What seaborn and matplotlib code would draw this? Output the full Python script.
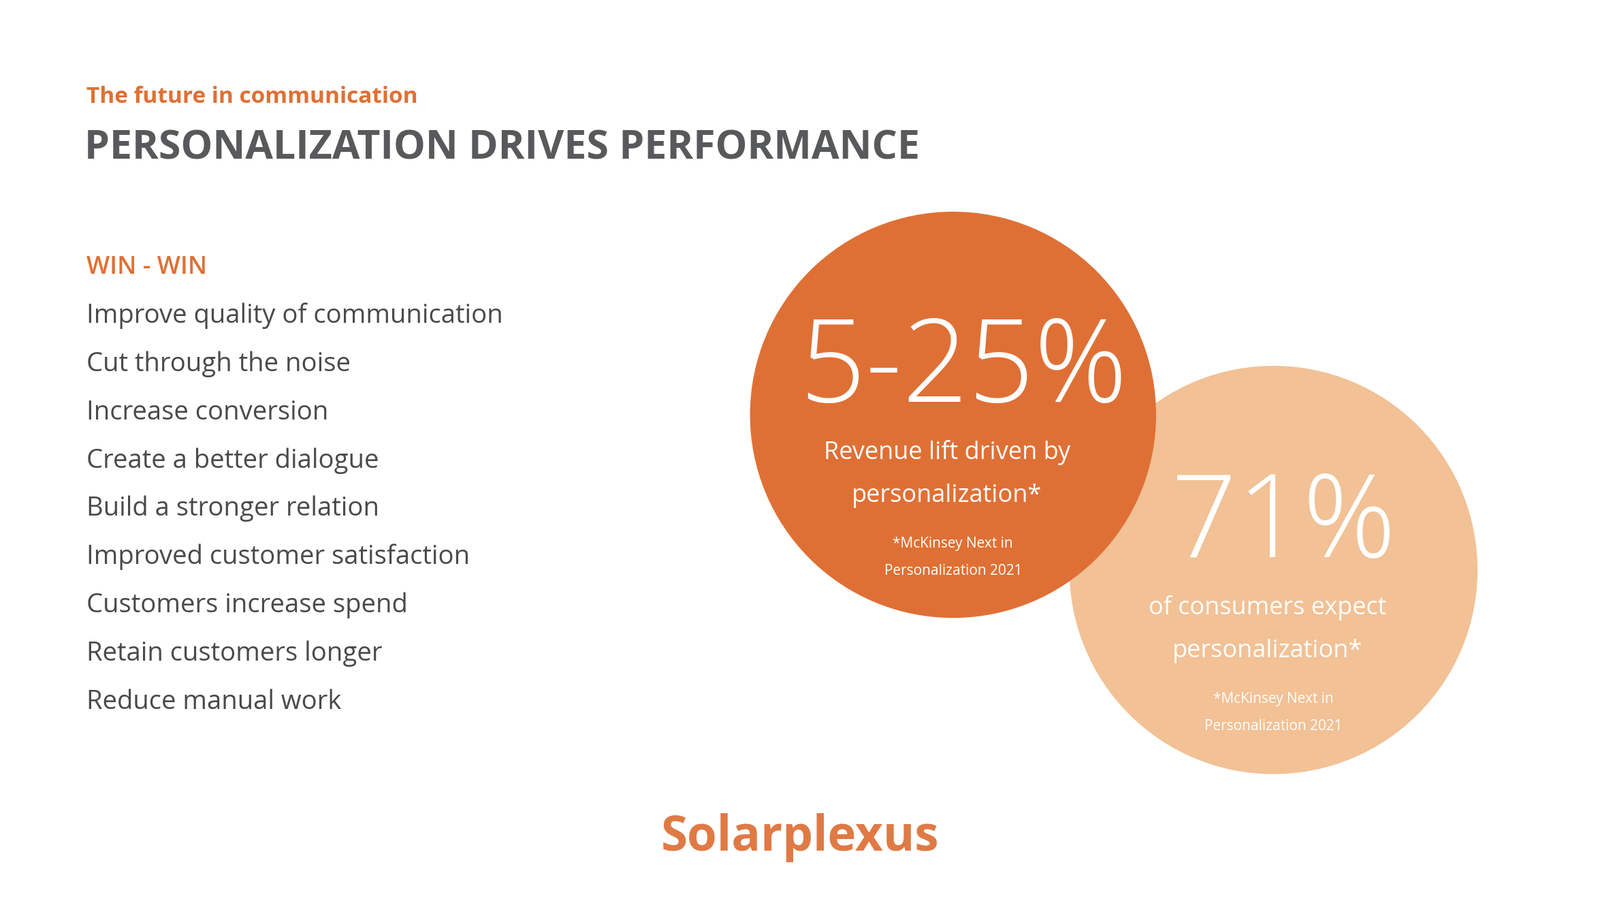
import matplotlib
matplotlib.use("Agg")
import matplotlib.pyplot as plt
import seaborn as sns
from matplotlib.patches import Circle

# --- content ---
KICKER = "The future in communication"
TITLE = "PERSONALIZATION DRIVES PERFORMANCE"
LIST_HEAD = "WIN - WIN"
BENEFITS = [
    "Improve quality of communication",
    "Cut through the noise",
    "Increase conversion",
    "Create a better dialogue",
    "Build a stronger relation",
    "Improved customer satisfaction",
    "Customers increase spend",
    "Retain customers longer",
    "Reduce manual work",
]
STAT_VALUES = ["5-25%", "71%"]
STAT_LABELS = ["Revenue lift driven by\npersonalization*", "of consumers expect\npersonalization*"]
STAT_SOURCE = "*McKinsey Next in\nPersonalization 2021"
LOGO = "Solarplexus"

ORANGE = "#DF7035"
PEACH = "#F2C195"
GREY = "#58595B"
TEXT = "#4A4A4A"

sns.set_theme(style="white", rc={"font.family": "Open Sans"})
fig = plt.figure(figsize=(23.5, 13.2), dpi=100)
ax = fig.add_axes([0, 0, 1, 1])
ax.set_xlim(0, 1568)
ax.set_ylim(880, 0)
ax.set_aspect("equal")
ax.axis("off")

ax.text(85, 95, KICKER, fontsize=24, fontweight="bold", color=ORANGE, va="center")
ax.text(83, 145, TITLE, fontsize=42.5, fontweight="bold", color=GREY, va="center")
ax.text(85, 262, LIST_HEAD, fontsize=26, fontweight="semibold", color=ORANGE, va="center")
for i, item in enumerate(BENEFITS):
    ax.text(85, 309 + i * 47.3, item, fontsize=27.5, color=TEXT, va="center")

# circles: peach behind, orange in front
circles = [(934, 406, 199, ORANGE), (1248, 558, 200, PEACH)]
for z, (cx, cy, r, c) in zip([3, 2], circles):
    ax.add_patch(Circle((cx, cy), r, color=c, lw=0, zorder=z))

for (cx, cy, r, c), val, lab, z in zip(circles, STAT_VALUES, STAT_LABELS, [4, 2.5]):
    ax.text(cx + 10, cy - 42, val, fontsize=122, fontweight="light", color="white",
            ha="center", va="center", zorder=z)
    ax.text(cx - 6, cy + 58, lab, fontsize=26, color="white", ha="center", va="center",
            linespacing=2.0, zorder=z)
    ax.text(cx, cy + 140, STAT_SOURCE, fontsize=15, color="white", ha="center", va="center",
            linespacing=2.2, zorder=z)

ax.text(784, 820, LOGO, fontsize=51, fontweight="bold", color="#DF7A45", ha="center", va="center")

fig.savefig("out.png", dpi=100, facecolor="white")
